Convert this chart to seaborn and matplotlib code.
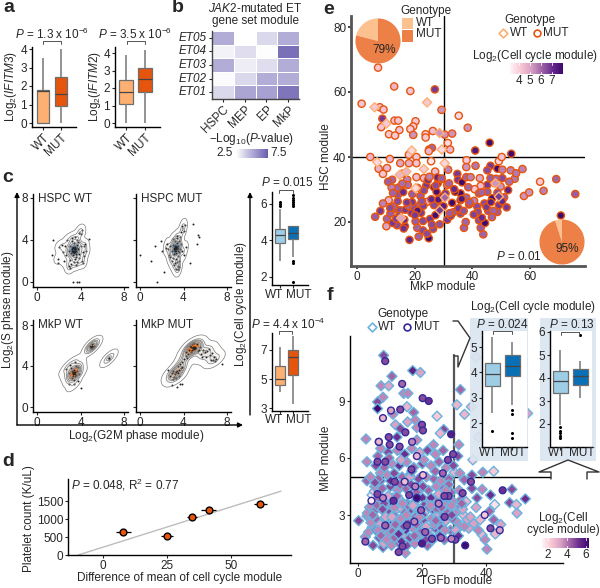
import seaborn as sns
import matplotlib.pyplot as plt
import matplotlib.patches as mpatches
from matplotlib.colors import LinearSegmentedColormap
import numpy as np
import pandas as pd

sns.set_theme(style='ticks')
plt.rcParams['font.family'] = ['Liberation Sans', 'DejaVu Sans']
plt.rcParams['mathtext.fontset'] = 'custom'
plt.rcParams['mathtext.rm'] = 'Liberation Sans'
plt.rcParams['mathtext.it'] = 'Liberation Sans:italic'
plt.rcParams['mathtext.default'] = 'regular'
plt.rcParams['font.size'] = 8.5

W, H = 600, 588

# panel a
a1_wt = [0, 0, 1.75, 1.77, 3.5]
a1_mut = [0, 0.9, 1.57, 2.5, 4.0]
a2_wt = [0, 1.1, 1.77, 2.48, 3.9]
a2_mut = [0, 1.8, 2.5, 3.16, 4.2]

# panel b
b_rows = ['ET05', 'ET04', 'ET03', 'ET02', 'ET01']
b_cols = ['HSPC', 'MEP', 'EP', 'MkP']
b_vals = [[5.0, 1.6, 3.2, 5.0],
          [2.2, 3.0, 1.8, 7.5],
          [5.0, 2.4, 3.0, 5.0],
          [1.9, 3.2, 5.0, 5.0],
          [3.2, 5.3, 5.5, 7.3]]

# panel c, density clouds
hw_x = [3.4, 3.2, 3.6, 3.5, 3.1, 3.8, 3.3, 3.7, 3.0, 3.9, 3.4, 2.9, 3.6, 4.0, 3.2, 3.5, 2.7, 4.2, 3.0, 3.8,
        2.6, 4.3, 3.4, 3.1, 3.7, 4.4, 2.4, 2.3, 4.5, 2.9, 3.5, 3.9, 3.2, 2.8, 4.1, 3.0, 3.6, 4.2, 2.5, 3.3,
        3.45, 3.35, 3.55, 3.25, 3.65, 3.4, 3.5, 3.3, 3.6, 3.2, 3.4, 3.5, 4.0, 4.1, 3.9, 1.9, 2.0, 3.7, 4.3]
hw_y = [3.0, 3.2, 2.9, 3.3, 2.8, 3.1, 2.6, 3.5, 3.4, 2.7, 3.7, 3.0, 2.4, 3.4, 3.9, 2.2, 2.6, 2.9, 2.1, 3.8,
        3.4, 2.5, 1.9, 1.7, 1.9, 3.6, 2.9, 3.5, 3.0, 1.5, 4.3, 2.3, 4.2, 4.0, 2.0, 1.3, 1.6, 1.8, 2.0, 3.0,
        3.1, 2.9, 3.0, 3.1, 3.2, 2.8, 3.1, 3.3, 2.7, 3.0, 3.2, 2.9, 4.6, 5.0, 4.7, 2.2, 3.3, 4.0, 3.4]
hw_far_x = [1.5, 1.4, 1.9, 3.3, 3.7, 3.9, 4.8]
hw_far_y = [4.0, 2.6, 1.8, 0.0, 0.0, 0.0, 4.1]
hm_x = [3.3, 3.1, 3.4, 3.2, 3.5, 3.0, 3.6, 3.3, 3.1, 3.4, 2.9, 3.7, 2.8, 3.8, 3.2, 3.5, 2.7, 3.0, 3.9, 3.3,
        2.6, 3.6, 2.5, 2.9, 4.0, 3.4, 3.2, 3.5, 3.1, 3.6, 2.8, 3.4, 3.7, 3.0, 3.3, 3.5, 3.9, 4.1, 4.0, 3.8,
        3.25, 3.35, 3.15, 3.45, 3.3, 3.2, 3.4, 3.3, 3.25, 3.35, 3.1, 3.5, 2.4, 4.2, 3.6, 3.4]
hm_y = [3.2, 3.1, 3.3, 3.0, 3.4, 3.5, 2.9, 2.8, 2.7, 3.7, 3.0, 3.1, 3.4, 3.6, 3.9, 2.5, 2.6, 2.3, 3.0, 2.2,
        3.1, 3.9, 3.6, 2.0, 2.6, 4.2, 1.8, 1.5, 1.6, 1.4, 2.4, 4.4, 4.3, 4.1, 1.2, 1.2, 5.3, 5.4, 4.9, 4.8,
        3.2, 3.3, 3.1, 3.2, 3.0, 3.4, 3.1, 3.3, 3.15, 3.25, 3.2, 3.0, 3.2, 3.3, 2.0, 1.9]
hm_far_x = [0.0, 1.6, 1.0, 1.4, 5.3, 5.4, 5.2, 4.6, 2.2, 1.9, 4.9, 2.0]
hm_far_y = [2.6, 0.0, 2.0, 3.4, 4.5, 4.3, 3.6, 1.8, 1.0, 3.9, 5.5, 3.0]
mw_x = [3.4, 3.3, 3.5, 3.2, 3.6, 3.4, 3.3, 3.5, 3.1, 3.7, 3.4, 2.9, 3.8, 3.2, 3.6, 2.7, 3.9, 3.0, 3.4, 3.5,
        3.3, 3.4, 3.45, 3.35, 5.0, 5.1, 5.2, 4.9, 5.15, 5.05, 4.95, 5.1, 6.6, 6.6, 6.65]
mw_y = [3.3, 3.2, 3.4, 3.5, 3.1, 3.6, 3.0, 3.0, 3.8, 3.5, 2.6, 3.3, 3.9, 2.8, 4.0, 3.7, 3.2, 4.1, 2.2, 4.4,
        3.4, 3.3, 3.25, 3.35, 5.9, 5.8, 6.0, 6.0, 5.9, 6.1, 5.8, 5.95, 4.75, 4.8, 4.7]
mw_far_x = [2.9, 3.8, 4.0]
mw_far_y = [2.2, 2.5, 1.9]
mm_x = [3.4, 3.2, 3.6, 3.0, 3.8, 3.3, 3.5, 2.9, 3.7, 3.1, 3.9, 4.0, 3.6, 4.2, 4.4, 4.5, 4.7, 4.9, 5.1, 4.8,
        5.0, 4.6, 5.2, 5.4, 5.5, 4.3, 4.9, 5.0, 5.1, 4.8, 4.7, 5.3, 5.6, 5.8, 6.0, 6.2, 6.4, 6.6, 6.8, 6.9,
        7.0, 6.5, 6.1, 5.7, 6.3, 4.2, 3.9, 4.85, 4.95, 5.05, 3.4, 3.3, 3.5, 6.7, 2.8, 3.0]
mm_y = [3.4, 3.2, 3.0, 3.5, 3.8, 2.8, 4.0, 3.3, 4.2, 2.9, 4.4, 4.7, 3.6, 5.0, 5.2, 5.6, 5.4, 5.9, 5.8, 6.1,
        6.2, 6.0, 6.1, 5.6, 5.9, 4.8, 5.8, 5.7, 5.9, 5.6, 5.9, 5.5, 5.2, 5.6, 5.4, 5.5, 5.1, 5.3, 4.9, 4.5,
        4.7, 4.6, 4.9, 4.9, 5.7, 5.4, 3.9, 5.8, 5.85, 5.75, 3.5, 3.4, 3.3, 4.6, 3.0, 2.7]
mm_far_x = [2.9, 3.4, 3.7, 3.9, 7.5, 2.6]
mm_far_y = [2.1, 2.0, 2.2, 2.2, 4.2, 3.6]

# panel c, boxes
cu_wt = [2.9, 3.4, 3.6, 3.7, 3.88, 4.0, 4.1, 4.2, 4.32, 4.4, 4.5, 4.55, 4.62, 5.7, 5.9, 6.0, 6.1]
cu_mut = [1.75, 2.75, 2.9, 3.1, 3.6, 3.9, 4.07, 4.1, 4.2, 4.3, 4.35, 4.4, 4.43, 4.5, 4.6, 4.65, 4.7, 4.75,
          4.8, 5.9, 6.0, 6.1, 6.2, 6.35, 6.5]
cl_wt = [4.1, 4.6, 5.0, 5.9, 7.2]
cl_mut = [3.3, 5.3, 6.5, 7.0, 8.0]

# panel d
d_diff = [8.0, 25.0, 34.7, 41.3, 61.5]
d_platelets = [650, 525, 1060, 1250, 1420]
d_err = [3.0, 2.5, 2.0, 3.0, 2.5]
d_fit_x = [-9.7, 69.5]
d_fit_y = [0, 1773]

# panel e
e_mut_x = [7.3, 12.9, 18.5, 27.0, 1.6, 7.9, 9.2, 8.8, 13.0, 14.3, 20.3, 19.5, 18.5, 8.4, 14.7, 11.1, 13.2, 19.5, 23.8, 23.8,
           26.3, 29.3, 35.3, 38.4, 33.0, 30.4, 31.5, 46.0, 41.0, 25.0, 26.0, 32.3, 4.6, 11.4, 7.5, 10.4, 9.0, 15.0, 18.0, 20.6,
           20.6, 18.0, 25.7, 27.1, 24.9, 20.6, 23.2, 17.4, 12.2, 15.0, 13.9, 17.6, 11.0, 9.0, 8.1, 6.3, 10.2, 10.4, 11.6, 13.3,
           15.0, 16.8, 18.9, 16.6, 13.9, 20.3, 20.9, 22.9, 25.3, 22.9, 24.9, 18.2, 21.4, 24.3, 26.4, 28.7, 31.3, 37.1, 37.7, 35.9,
           34.8, 21.8, 22.2, 24.3, 26.7, 27.6, 26.7, 27.2, 29.5, 31.3, 30.7, 34.8, 35.0, 36.4, 37.9, 39.4, 31.9, 35.9, 35.9, 37.9,
           40.6, 41.7, 41.9, 42.3, 42.9, 43.8, 44.4, 45.5, 48.7, 47.3, 46.9, 49.2, 51.9, 51.0, 52.4, 49.8, 48.7, 47.9, 45.2, 42.9,
           40.8, 42.3, 45.2, 46.3, 45.2, 48.7, 50.4, 53.3, 57.4, 54.7, 53.5, 41.1, 38.0, 37.9, 49.2, 50.2, 42.6, 46.3, 50.4, 57.9,
           59.7, 64.7, 63.5, 69.1, 75.7, 70.7, 14.2, 16.0, 12.7, 19.6, 24.0, 25.8, 28.0, 29.2, 33.0, 34.0, 36.3, 33.4, 32.5, 38.9,
           22.0, 19.1, 16.4, 14.6, 12.4, 17.8, 21.0, 26.0, 30.0, 32.1, 29.0, 44.2, 43.3, 46.8, 12.0, 15.9, 23.2, 24.6, 27.9, 38.6,
           10.8, 12.5, 14.1, 15.7, 17.3, 19.2, 21.0, 23.0, 25.1, 27.3, 29.4, 31.6, 33.7, 35.2, 37.0, 39.0, 40.5, 43.2, 44.9, 46.4,
           48.2, 50.3, 52.8, 55.2, 11.5, 13.6, 16.2, 20.1, 22.5, 28.2]
e_mut_y = [67.5, 61.7, 60.3, 60.8, 56.4, 55.3, 54.6, 51.8, 51.2, 51.2, 51.0, 49.4, 48.6, 49.2, 48.3, 47.0, 46.6, 46.8, 47.0, 46.0,
           48.0, 54.5, 52.7, 49.0, 47.2, 46.9, 44.3, 44.4, 42.0, 42.3, 42.8, 42.3, 40.0, 39.4, 36.4, 36.6, 34.8, 38.1, 40.7, 40.0,
           38.1, 38.1, 38.7, 35.5, 41.8, 33.8, 33.5, 33.0, 33.0, 30.9, 30.4, 31.4, 26.7, 25.7, 23.4, 21.6, 18.7, 21.0, 22.6, 24.1,
           23.6, 23.8, 22.8, 18.7, 19.0, 20.2, 18.2, 20.3, 20.9, 17.4, 15.0, 14.5, 15.5, 16.4, 17.9, 19.3, 20.7, 18.2, 20.0, 22.6,
           23.6, 25.2, 22.8, 26.2, 30.7, 29.3, 25.2, 22.1, 27.8, 31.4, 28.8, 34.8, 33.0, 32.2, 33.8, 33.8, 31.9, 28.8, 26.7, 27.5,
           26.5, 24.7, 23.1, 20.5, 18.2, 16.2, 19.7, 23.4, 23.1, 23.4, 27.3, 25.2, 24.5, 27.6, 29.8, 30.9, 29.0, 31.9, 31.4, 31.1,
           30.1, 28.8, 29.3, 37.3, 35.9, 36.4, 36.1, 35.9, 36.3, 33.3, 41.0, 37.3, 39.0, 36.9, 38.7, 40.0, 33.5, 33.5, 33.5, 28.0,
           29.1, 29.6, 32.4, 33.2, 28.6, 22.0, 28.4, 29.2, 24.8, 24.6, 31.2, 27.0, 31.9, 24.6, 25.9, 29.3, 27.1, 23.0, 21.9, 25.4,
           28.0, 26.1, 20.7, 21.9, 19.7, 25.0, 23.5, 19.2, 24.9, 22.7, 33.1, 25.7, 21.3, 21.5, 30.6, 34.9, 29.7, 32.9, 33.7, 30.7,
           32.4, 28.9, 26.4, 31.8, 26.0, 28.6, 30.5, 25.0, 33.9, 31.2, 33.4, 36.1, 30.1, 24.2, 23.4, 26.0, 22.3, 29.1, 24.6, 26.1,
           33.3, 26.4, 32.4, 35.0, 24.3, 21.0, 18.0, 22.1, 26.4, 26.9]
e_mut_c = [4.3, 4.5, 4.3, 6.0, 4.3, 4.3, 4.3, 6.0, 4.3, 4.3, 4.2, 4.2, 4.2, 4.3, 4.3, 4.2, 4.2, 5.0, 4.2, 4.2,
           4.4, 5.0, 4.0, 5.0, 5.0, 5.0, 4.0, 7.1, 6.5, 5.0, 5.5, 4.5, 4.5, 4.5, 4.6, 4.5, 4.3, 4.8, 4.3, 4.3,
           4.3, 4.6, 3.8, 4.4, 4.5, 4.4, 4.5, 5.2, 5.5, 5.5, 5.5, 5.4, 4.6, 5.2, 6.0, 5.6, 4.8, 5.5, 5.6, 5.6,
           5.8, 6.0, 6.0, 6.6, 5.8, 5.6, 5.5, 5.8, 6.0, 5.8, 6.8, 6.3, 5.5, 5.8, 5.8, 5.7, 6.0, 5.5, 5.5, 5.8,
           5.7, 5.5, 6.0, 4.6, 6.6, 6.7, 5.8, 6.7, 6.0, 5.2, 6.0, 6.0, 6.0, 7.0, 5.5, 5.2, 5.5, 7.0, 7.0, 5.5,
           5.2, 5.8, 5.8, 5.8, 5.6, 5.5, 6.8, 5.7, 5.6, 5.5, 7.0, 6.0, 6.0, 5.6, 6.3, 5.0, 5.8, 5.3, 6.0, 4.4,
           4.3, 5.6, 5.6, 6.0, 5.8, 6.8, 5.2, 5.2, 5.2, 5.3, 7.1, 5.3, 4.2, 5.0, 4.0, 4.3, 4.8, 5.6, 5.8, 5.0,
           5.0, 5.2, 4.2, 5.5, 5.6, 7.0, 5.7, 6.2, 5.5, 5.8, 6.0, 6.2, 6.5, 5.4, 6.8, 7.0, 6.5, 5.6, 6.0, 5.7,
           5.6, 6.0, 6.2, 5.8, 6.0, 5.5, 6.6, 5.8, 6.4, 5.6, 5.0, 5.8, 6.2, 5.5, 5.2, 5.5, 5.8, 6.1, 6.3, 5.5,
           5.6, 5.5, 5.8, 5.4, 6.0, 5.6, 5.4, 5.9, 5.2, 5.8, 5.6, 5.2, 6.2, 6.0, 5.7, 5.6, 5.9, 5.5, 6.0, 6.4,
           5.5, 6.2, 5.4, 5.3, 5.8, 5.9, 6.1, 6.0, 5.7, 6.5]
e_wt_x = [6.1, 24.3, 10.2, 28.6, 7.0, 30.4, 23.2, 14.8, 17.1, 20.3, 30.5, 28.7, 15.3, 49.2, 48.0, 29.4, 19.0]
e_wt_y = [55.3, 56.8, 50.3, 47.4, 38.4, 38.1, 36.3, 34.5, 35.5, 30.4, 27.5, 23.6, 21.2, 27.8, 31.9, 42.3, 42.0]
e_wt_c = [4.2, 4.2, 4.2, 5.0, 4.0, 4.0, 4.2, 4.5, 4.5, 4.0, 5.5, 6.0, 4.8, 6.0, 5.0, 4.0, 4.0]
e_pie_top = [21, 79]
e_pie_bottom = [5, 95]

# panel f
f_wt_x = [8.0, 10.6, 17.1, 19.5, 7.2, 9.6, 14.3, 15.6, 7.8, 32.0, 30.9, 35.4, 33.3, 36.9, 53.0, 24.7, 15.3, 17.4, 6.1, 6.1,
          10.9, 11.7, 15.5, 17.9, 13.2, 18.4, 26.8, 25.7, 2.5, 37.7, 18.4, 12.2, 23.6, 31.5, 2.8, 2.8, 7.0, 7.0, 42.4, 39.0,
          35.9, 35.6, 33.2, 30.1, 31.8, 38.8, 41.4, 48.1, 52.3, 47.4, 49.5, 49.7, 42.7, 37.2, 35.6, 0.2, 2.8, 4.4, 2.3, 7.8,
          14.8, 40.3, 42.4, 42.9, 38.8, 36.1, 38.2, 33.0, 34.1, 30.9, 31.5, 27.8, 4.4, 5.1,
          7.1, 9.4, 12.3, 14.6, 16.8, 19.3, 21.7, 24.2, 26.6, 31.2, 5.6, 8.2, 10.6, 12.9, 15.2, 17.4, 20.1, 22.8, 25.3, 27.6,
          29.8, 3.9, 6.4, 9.2, 11.3, 13.8, 16.1, 18.9, 21.4, 23.7, 25.9, 28.4, 5.2, 7.6, 10.1, 12.4, 15.0, 17.1, 19.6, 22.0,
          24.5, 26.8, 29.1, 31.6, 3.6, 5.9, 8.3, 10.7, 13.1, 15.4, 17.8, 20.2, 22.6, 24.9, 27.3, 29.7, 32.2, 2.9, 5.1, 7.4,
          9.8, 12.0, 14.3, 16.6, 18.8, 21.1, 23.3, 25.7, 28.0, 30.3, 32.7, 4.0, 6.2, 8.7, 11.0, 13.4, 15.7, 18.0, 20.4, 22.9,
          25.1, 27.5, 29.6, 31.9, 34.6, 3.3, 5.6, 7.9, 10.3, 12.6, 14.9, 17.3, 19.5, 21.9, 24.2, 26.4, 28.9, 6.6, 9.0, 11.4,
          13.7, 16.2, 18.5, 20.8, 23.2, 25.4, 27.0, 8.1, 10.5, 12.9, 15.3, 17.7, 21.7, 4.7, 6.9, 9.3, 11.7, 14.1, 16.5, 19.0,
          21.3, 23.9, 26.1, 6.0, 8.5, 10.9, 13.2, 15.6, 18.1, 20.6, 22.3, 24.7, 27.2, 29.4, 33.8, 36.9, 39.7, 41.1, 44.6,
          4.6, 6.3, 8.2, 9.4, 11.1, 12.7, 13.9, 15.4, 17.2, 18.3, 20.2, 21.6, 22.8, 24.7, 26.1, 27.2, 29.3, 30.6, 32.4, 33.2,
          5.3, 7.2, 8.6, 10.2, 11.3, 13.2, 14.4, 16.3, 17.6, 19.2, 20.3, 22.2, 23.4, 25.2, 26.7, 28.3, 29.2, 31.4, 35.1, 37.6,
          6.2, 7.7, 8.9, 10.6, 12.2, 13.6, 15.2, 16.6, 18.2, 19.4, 21.2, 22.7, 24.3, 25.6, 27.4, 9.7, 13.4, 16.8, 20.6, 24.1]
f_wt_y = [11.4, 10.3, 10.6, 10.5, 9.8, 9.8, 9.4, 9.4, 9.2, 9.6, 8.8, 8.7, 8.3, 11.3, 8.35, 8.2, 8.7, 8.4, 8.95, 8.6,
          8.3, 7.75, 7.9, 8.0, 7.55, 7.6, 7.5, 7.3, 7.0, 7.1, 6.95, 7.1, 6.7, 6.7, 5.8, 4.8, 5.2, 4.8, 5.3, 5.25,
          5.9, 5.1, 4.85, 5.25, 5.2, 4.35, 4.05, 4.35, 3.85, 3.65, 3.55, 3.1, 3.55, 3.9, 4.4, 2.7, 2.95, 2.35, 1.85, 1.3,
          1.0, 1.2, 2.75, 2.0, 1.95, 2.55, 2.75, 3.0, 2.75, 2.65, 3.35, 3.8, 4.05, 4.25,
          6.5, 6.3, 6.4, 6.2, 6.5, 6.3, 6.4, 6.2, 6.4, 6.1, 5.6, 5.5, 5.7, 5.6, 5.8, 5.5, 5.7, 5.6, 5.8, 5.5,
          5.6, 5.0, 4.9, 5.1, 5.2, 5.0, 5.1, 4.9, 5.0, 4.9, 4.8, 4.9, 4.5, 4.4, 4.5, 4.3, 4.4, 4.2, 4.4, 4.3,
          4.5, 4.4, 4.2, 4.3, 3.4, 3.8, 3.7, 3.9, 3.8, 3.6, 3.7, 3.9, 3.7, 3.8, 3.6, 3.7, 3.8, 3.1, 3.2, 3.3,
          3.1, 3.3, 3.2, 3.3, 3.1, 3.2, 3.3, 3.1, 3.2, 3.1, 3.3, 2.6, 2.7, 2.8, 2.6, 2.8, 2.7, 2.9, 2.7, 2.8,
          2.6, 2.7, 2.8, 2.4, 2.3, 2.1, 2.2, 2.3, 2.2, 2.4, 2.2, 2.3, 2.1, 2.2, 2.3, 2.1, 2.2, 1.8, 1.9, 1.8,
          1.9, 1.8, 1.9, 1.7, 1.8, 1.9, 1.7, 1.5, 1.4, 1.5, 1.4, 1.5, 1.4, 1.4, 2.5, 2.4, 2.5, 2.4, 2.6, 2.5,
          2.4, 2.5, 2.3, 3.5, 3.5, 3.6, 3.4, 3.5, 3.4, 3.5, 3.4, 3.3, 3.5, 3.4, 3.7, 3.4, 1.7, 3.2, 2.5,
          3.0, 2.2, 3.6, 4.0, 3.0, 2.0, 3.6, 2.6, 3.5, 4.2, 3.0, 2.0, 3.9, 2.9, 3.4, 2.2, 3.0, 2.2, 3.6, 2.4,
          4.7, 1.9, 2.9, 4.8, 3.4, 4.6, 2.4, 5.0, 1.9, 2.9, 4.5, 3.4, 1.7, 4.1, 2.9, 4.6, 3.5, 1.9, 2.9, 2.2,
          6.1, 3.3, 1.7, 2.9, 4.0, 1.6, 3.0, 4.6, 2.5, 3.3, 1.7, 3.5, 2.7, 1.9, 4.3, 6.0, 5.9, 5.3, 5.9, 5.3]
f_wt_c = [4.0, 3.5, 4.8, 2.5, 3.0, 2.5, 3.0, 3.0, 3.0, 3.5, 2.0, 2.0, 2.0, 1.5, 2.5, 1.5, 2.0, 3.5, 4.0, 5.5,
          3.0, 2.5, 2.5, 3.0, 4.0, 3.0, 4.0, 2.0, 3.0, 1.5, 3.0, 4.5, 3.0, 3.0, 3.0, 3.5, 3.0, 4.0, 1.5, 3.0,
          1.5, 4.0, 3.5, 2.0, 3.0, 3.0, 4.5, 4.0, 4.5, 4.0, 2.0, 2.5, 1.0, 4.0, 4.0, 4.0, 3.0, 3.0, 3.0, 4.0,
          3.0, 3.0, 3.5, 2.0, 2.0, 2.5, 2.0, 2.0, 2.5, 3.0, 3.5, 3.0, 1.0, 1.5,
          3.0, 4.0, 3.0, 4.5, 3.0, 2.5, 4.0, 3.0, 3.5, 4.0, 4.0, 3.5, 3.0, 4.5, 3.0, 3.5, 4.0, 3.0, 3.5, 3.0,
          4.0, 3.0, 3.5, 3.0, 4.0, 3.5, 3.0, 4.0, 3.0, 3.5, 3.0, 3.5, 3.0, 3.5, 4.0, 3.0, 3.5, 4.0, 3.0, 3.5,
          3.0, 3.5, 3.5, 3.0, 3.0, 3.5, 4.0, 3.0, 2.5, 4.0, 3.5, 4.5, 3.0, 3.5, 4.0, 3.0, 3.5, 3.0, 3.5, 3.0,
          4.0, 2.5, 3.5, 4.0, 3.0, 2.0, 4.0, 3.0, 3.5, 3.0, 2.5, 3.0, 3.5, 3.0, 4.5, 3.0, 1.5, 3.5, 4.0, 3.0,
          3.5, 2.5, 3.5, 3.0, 2.5, 3.0, 4.0, 3.0, 3.5, 2.5, 4.5, 3.0, 3.5, 2.5, 4.0, 3.0, 3.5, 4.0, 3.0, 3.5,
          2.5, 4.0, 3.0, 3.5, 3.0, 4.5, 3.5, 2.5, 3.0, 3.5, 4.0, 3.0, 3.5, 4.0, 2.5, 3.0, 3.5, 4.0, 3.0, 3.5,
          2.5, 3.0, 4.0, 3.5, 3.0, 4.5, 2.5, 3.5, 3.0, 4.0, 3.0, 3.5, 3.0, 2.5, 2.0, 2.5, 3.0, 3.5, 2.5,
          3.5, 3.0, 4.0, 2.5, 3.5, 4.5, 3.0, 4.0, 2.5, 3.5, 4.0, 3.0, 4.5, 2.5, 3.5, 3.0, 4.0, 2.5, 3.5, 3.0,
          4.0, 3.5, 2.5, 4.5, 3.0, 3.5, 4.0, 2.5, 3.5, 3.0, 4.0, 3.5, 3.0, 2.5, 4.0, 3.5, 3.0, 4.5, 2.5, 3.0,
          3.5, 4.0, 3.0, 2.5, 3.5, 4.5, 3.0, 4.0, 3.5, 2.5, 4.0, 3.0, 3.5, 4.5, 3.0, 3.5, 2.5, 4.0, 3.0, 3.5]
f_mut_x = [8.5, 13.8, 20.2, 22.1, 10.3, 13.2, 7.8, 20.0, 20.3, 14.8, 29.1, 9.6, 6.5, 16.9, 45.2, 39.6, 41.4, 44.3, 33.5, 30.4,
           29.2, 25.9, 23.1, 20.0, 12.7, 13.9, 2.3, 4.2, 6.1, 7.8, 11.1, 16.0, 18.4, 17.9, 11.5, 14.6, 20.3, 26.5, 35.3, 32.7,
           28.3, 27.0, 25.2, 19.7, 27.1, 17.6, 15.3, 8.5, 21.0, 13.0, 9.9, 6.1, 8.5, 18.4, 28.1, 29.7, 16.7, 6.5]
f_mut_y = [11.1, 9.9, 9.15, 9.0, 8.5, 8.55, 8.1, 7.75, 7.45, 7.35, 7.25, 7.1, 6.85, 6.85, 4.3, 3.0, 2.3, 2.2, 1.4, 1.7,
           1.75, 1.8, 1.75, 1.5, 1.05, 1.35, 1.6, 3.75, 4.1, 3.9, 3.75, 4.05, 3.9, 4.5, 4.75, 4.75, 5.1, 5.2, 4.75, 4.15,
           4.0, 4.0, 3.6, 3.25, 2.9, 2.65, 2.45, 2.45, 2.1, 6.6, 6.7, 5.8, 5.8, 6.1, 5.9, 6.2, 5.4, 6.85]
f_mut_c = [4.0, 3.5, 4.0, 4.5, 2.5, 4.0, 2.0, 4.0, 4.0, 4.0, 5.0, 4.0, 3.5, 3.0, 4.5, 1.5, 4.0, 2.5, 6.5, 4.0,
           3.0, 3.5, 4.0, 5.0, 4.0, 4.0, 3.5, 0.8, 4.0, 3.0, 4.5, 4.0, 6.0, 3.0, 4.0, 1.8, 1.8, 3.5, 4.0, 4.0,
           4.0, 4.0, 3.0, 3.5, 4.0, 3.0, 4.0, 3.5, 3.5, 4.0, 4.0, 4.0, 4.0, 2.0, 4.0, 4.0, 4.0, 2.0]

# panel f, boxes
f1_wt = [1.7, 2.38, 3.47, 3.7, 3.93, 4.1, 4.35, 4.9, 5.4]
f1_mut = [1.4, 1.62, 2.35, 2.5, 2.73, 3.3, 3.85, 3.9, 4.0, 4.1, 4.15, 4.2, 4.25, 4.3, 4.35, 4.4, 4.5, 4.6,
          4.67, 4.8, 4.9, 4.95, 5.0, 5.1, 5.2]
f2_wt = [1.4, 1.5, 1.6, 1.7, 1.85, 1.95, 3.35, 3.4, 3.5, 3.6, 3.7, 3.8, 3.85, 3.9, 4.0, 4.1, 4.2, 4.25,
         4.3, 4.4, 4.5, 4.6, 4.8, 5.0, 5.2]
f2_mut = [3.15, 3.4, 3.7, 3.9, 4.1, 4.2, 4.4, 4.75, 5.85]

ORANGE = {'WT': '#FDB071', 'MUT': '#E6550D'}
BLUE = {'WT': '#9ECDE6', 'MUT': '#0A70B5'}
cycle_cmap = LinearSegmentedColormap.from_list('cyc', ['#FFF3F6', '#F8C6D3', '#D9A0C4', '#A064A6', '#6A2C8F', '#3F0A6E'])
b_cmap = LinearSegmentedColormap.from_list('bp', ['#FFFFFF', '#C9C7E2', '#9A94CB', '#6A5FAE'])
grey_blue = LinearSegmentedColormap.from_list('gb', ['#FFFFFF', '#F2F2F2', '#CFCFCF', '#9BA8B4', '#4F86B4', '#1F6FB5'])
grey_orange = LinearSegmentedColormap.from_list('go', ['#FFFFFF', '#F4F2F0', '#D6CEC7', '#C9A98F', '#E98A48', '#F06A1A'])

fig = plt.figure(figsize=(W / 100, H / 100), dpi=100)


def px_ax(x0, y0, x1, y1, **kw):
    # axes from pixel box, y counted from the top
    return fig.add_axes([x0 / W, 1 - y1 / H, (x1 - x0) / W, (y1 - y0) / H], **kw)


def lim(p0, p1, va, pa, vb, pb):
    # data values at pixels p0 and p1, given two known ticks
    k = (vb - va) / (pb - pa)
    return va + (p0 - pa) * k, va + (p1 - pa) * k


def style(ax, lw=1.0, color='black'):
    sns.despine(ax=ax)
    ax.spines['left'].set_linewidth(lw)
    ax.spines['bottom'].set_linewidth(lw)
    ax.spines['left'].set_color(color)
    ax.spines['bottom'].set_color(color)
    ax.tick_params(length=2, width=0.8, pad=1.5, labelsize=8.5)
    ax.set_xlabel('')
    ax.set_ylabel('')


def box_panel(box, wt, mut, pal, centers, ya, yb, yticks, rot=0, width=0.72, whis=1.5, fs=8.5):
    ax = px_ax(*box)
    df = pd.DataFrame({'g': ['WT'] * len(wt) + ['MUT'] * len(mut), 'v': wt + mut})
    sns.boxplot(data=df, x='g', y='v', hue='g', palette=pal, legend=False, ax=ax, width=width,
                linewidth=0.9, linecolor='#6E6E6E', whis=whis, saturation=1, showcaps=False,
                whiskerprops=dict(color='#808080', linewidth=1.2), medianprops=dict(color='#444444', linewidth=0.9),
                flierprops=dict(marker='o', markersize=1.2, markerfacecolor='black', markeredgecolor='black'))
    style(ax)
    ax.set_xlim(*lim(box[0], box[2], 0, centers[0], 1, centers[1]))
    ax.set_ylim(*lim(box[3], box[1], ya[0], ya[1], yb[0], yb[1]))
    ax.set_yticks(yticks)
    ax.set_xticks([0, 1])
    if rot:
        ax.set_xticklabels(['WT', 'MUT'], rotation=rot, ha='right', rotation_mode='anchor', fontsize=fs)
    else:
        # labels are wider than the box spacing, they go on the overlay
        ax.set_xticklabels([])
    ax.tick_params(axis='y', labelsize=fs)
    return ax


def cloud_panel(box, x, y, far_x, far_y, cmap, label, xr, yr, ytick_labels, bw=0.8):
    ax = px_ax(*box)
    sns.kdeplot(x=x, y=y, fill=True, levels=12, thresh=0.08, cmap=cmap, bw_adjust=bw, ax=ax)
    sns.kdeplot(x=x, y=y, levels=7, thresh=0.02, color='#7A7A7A', linewidths=0.5, bw_adjust=bw, ax=ax)
    sns.scatterplot(x=x + far_x, y=y + far_y, s=2, color='#222222', linewidth=0, ax=ax)
    style(ax)
    ax.set_xlim(*lim(box[0], box[2], 0, xr[0], 8, xr[1]))
    ax.set_ylim(*lim(box[3], box[1], 0, yr[0], 8, yr[1]))
    ax.set_xticks([0, 4, 8])
    ax.set_yticks([0, 4, 8])
    if not ytick_labels:
        ax.set_yticklabels([])
    ax.text(0.05, 0.95, label, transform=ax.transAxes, va='center', fontsize=8.5)
    return ax


def gradient(box, cmap, tick_px=()):
    ax = px_ax(*box)
    ax.imshow(np.linspace(0, 1, 64)[None, :], cmap=cmap, aspect='auto', extent=(box[0], box[2], 0, 1))
    for p in tick_px:
        ax.axvline(p, color='white', lw=0.6, ymax=0.22)
        ax.axvline(p, color='white', lw=0.6, ymin=0.78)
    ax.axis('off')


# panel a
box_panel((32, 47, 76, 127), a1_wt, a1_mut, ORANGE, (43, 61), (0, 123), (4, 49), [0, 1, 2, 3, 4], rot=45, whis=10)
box_panel((115, 47, 160, 127), a2_wt, a2_mut, ORANGE, (126, 145), (0, 123), (4, 53), [0, 1, 2, 3, 4], rot=45, whis=10)

# panel b
ax_b = px_ax(212, 31, 299, 99)
sns.heatmap(pd.DataFrame(b_vals, index=b_rows, columns=b_cols), cmap=b_cmap, vmin=1.7, vmax=8.2, cbar=False,
            linewidths=0.6, linecolor='white', xticklabels=b_cols, yticklabels=b_rows, ax=ax_b)
ax_b.set_yticklabels(b_rows, rotation=0, style='italic', fontsize=8.5)
ax_b.set_xticklabels(b_cols, rotation=45, ha='right', rotation_mode='anchor', fontsize=8.5)
ax_b.tick_params(length=2, width=0.8, pad=1.5)
for s in ['left', 'bottom']:
    ax_b.spines[s].set_visible(True)
    ax_b.spines[s].set_color('#444444')
    ax_b.spines[s].set_linewidth(1)
gradient((236, 149, 268, 158), b_cmap)

# panel c clouds
cloud_panel((33, 194, 128, 287), hw_x, hw_y, hw_far_x, hw_far_y, grey_blue, 'HSPC WT', (37, 124), (282, 198), True)
cloud_panel((136, 194, 231, 287), hm_x, hm_y, hm_far_x, hm_far_y, grey_blue, 'HSPC MUT', (140, 227), (282, 198), False)
cloud_panel((33, 320, 128, 412), mw_x, mw_y, mw_far_x, mw_far_y, grey_orange, 'MkP WT', (37, 124), (407, 325), True, bw=0.6)
cloud_panel((136, 320, 231, 412), mm_x, mm_y, mm_far_x, mm_far_y, grey_orange, 'MkP MUT', (140, 227), (407, 325), False, bw=0.75)

# panel c boxes
box_panel((272, 192, 308, 285), cu_wt, cu_mut, BLUE, (280, 293), (2, 277), (6, 204), [2, 4, 6], width=0.75)
box_panel((272, 333, 308, 411), cl_wt, cl_mut, ORANGE, (280, 293), (3, 408), (7, 350), [3, 5, 7], width=0.75, whis=10)

# panel d
ax_d = px_ax(68, 479, 291, 555)
sns.lineplot(x=d_fit_x, y=d_fit_y, color='#BDBDBD', linewidth=1, ax=ax_d)
ax_d.errorbar(d_diff, d_platelets, xerr=d_err, fmt='none', ecolor='black', elinewidth=0.9, zorder=3)
sns.scatterplot(x=d_diff, y=d_platelets, s=24, color='#E6550D', edgecolor='black', linewidth=1, zorder=4, ax=ax_d)
style(ax_d)
ax_d.set_xlim(*lim(68, 291, 0, 103, 50, 231))
ax_d.set_ylim(*lim(555, 479, 0, 555, 1500, 501))
ax_d.set_xticks([0, 25, 50])
ax_d.set_yticks([0, 500, 1000, 1500])

# panel e
ax_e = px_ax(351, 16, 585, 266)
ax_e.axvline(30, color='black', lw=1, zorder=1)
ax_e.axhline(40, color='black', lw=1, zorder=1)
sns.scatterplot(x=e_mut_x, y=e_mut_y, hue=e_mut_c, hue_norm=(3.6, 6.8), palette=cycle_cmap, marker='o', s=27,
                edgecolor='#E6550D', linewidth=1.0, legend=False, zorder=2, ax=ax_e)
sns.scatterplot(x=e_wt_x, y=e_wt_y, hue=e_wt_c, hue_norm=(3.6, 6.8), palette=cycle_cmap, marker='D', s=22,
                edgecolor='#FDB071', linewidth=1.0, legend=False, zorder=3, ax=ax_e)
style(ax_e, lw=2, color='#555555')
ax_e.set_xlim(*lim(351, 585, 0, 357, 60, 530))
ax_e.set_ylim(*lim(266, 16, 20, 222, 80, 27))
ax_e.set_xticks([0, 20, 40, 60])
ax_e.set_yticks([20, 40, 60, 80])
ax_e.tick_params(width=1.2)

for (cx, cy), vals in [((378, 41), e_pie_top), ((562, 242), e_pie_bottom)]:
    ax_p = px_ax(cx - 23, cy - 23, cx + 23, cy + 23)
    ax_p.pie(vals, colors=['#FDC08F', '#EC8047'], startangle=90, radius=1.0,
             wedgeprops=dict(edgecolor='none'))
    ax_p.set_xlim(-1.02, 1.02)
    ax_p.set_ylim(-1.02, 1.02)

gradient((510, 63, 563, 74), cycle_cmap, (519, 530, 541, 552))

# panel f
ax_f = px_ax(350, 336, 563, 563)
ax_f.plot([30, 30], [0, 11.4], color='#555555', lw=1.6, zorder=1)
ax_f.plot([-3, 60], [5, 5], color='black', lw=1, zorder=1)
sns.scatterplot(x=f_wt_x, y=f_wt_y, hue=f_wt_c, hue_norm=(0.6, 5.5), palette=cycle_cmap, marker='D', s=26,
                edgecolor='#6BB3DE', linewidth=1.0, legend=False, zorder=2, ax=ax_f)
sns.scatterplot(x=f_mut_x, y=f_mut_y, hue=f_mut_c, hue_norm=(0.6, 5.5), palette=cycle_cmap, marker='o', s=24,
                edgecolor='#33289A', linewidth=1.0, legend=False, zorder=3, ax=ax_f)
style(ax_f)
ax_f.set_xlim(*lim(350, 563, 0, 358, 40, 486))
ax_f.set_ylim(*lim(563, 336, 3, 515, 9, 401))
ax_f.set_xticks([0, 20, 40])
ax_f.set_yticks([3, 6, 9])

gradient((542, 538, 589, 548), cycle_cmap, (548, 567, 586))

# panel f insets
for box in [(470, 318, 528, 461), (540, 318, 596, 461)]:
    ax_bg = px_ax(*box)
    ax_bg.set_facecolor((0.855, 0.898, 0.945, 0.9))
    ax_bg.set_xticks([])
    ax_bg.set_yticks([])
    sns.despine(ax=ax_bg, left=True, bottom=True)
ax1 = box_panel((482, 331, 527, 447), f1_wt, f1_mut, BLUE, (492, 512), (2, 423), (5, 347), [2, 3, 4, 5], width=0.75)
ax2 = box_panel((550, 331, 592, 447), f2_wt, f2_mut, BLUE, (560, 580), (2, 424), (6, 332), [2, 3, 4, 5, 6], width=0.75)

# overlay for text, brackets and arrows
ov = fig.add_axes([0, 0, 1, 1], zorder=20)
ov.set_xlim(0, W)
ov.set_ylim(H, 0)
ov.axis('off')


def t(x, y, s, ha='center', size=8.5, **kw):
    ov.text(x, y, s, ha=ha, va='center', fontsize=size, **kw)


def bracket(x0, x1, y):
    ov.plot([x0, x0, x1, x1], [y + 3, y, y, y + 3], color='#555555', lw=0.7)


for x, y, s in [(3, 8, 'a'), (172, 8, 'b'), (2, 177, 'c'), (2, 461, 'd'), (323, 9, 'e'), (327, 296, 'f')]:
    t(x, y, s, ha='left', size=14, fontweight='bold')

t(52, 34, r'$\mathit{P}$ = 1.3 x 10$^{-6}$')
t(135, 34, r'$\mathit{P}$ = 3.5 x 10$^{-6}$')
bracket(43, 61, 41)
bracket(127, 145, 41)
t(11, 87, r'Log$_2$($\mathit{IFITM3}$)', rotation=90)
t(95, 87, r'Log$_2$($\mathit{IFITM2}$)', rotation=90)

t(255, 8, r'$\mathit{JAK2}$-mutated ET')
t(255, 21, 'gene set module')
t(252, 139, r'$-$Log$_{10}$($\mathit{P}$-value)')
t(233, 153, '2.5', ha='right')
t(270, 153, '7.5', ha='left')

t(8, 310, r'Log$_2$(S phase module)', rotation=90)
t(136, 436, r'Log$_2$(G2M phase module)')
t(241, 304, r'Log$_2$(Cell cycle module)', rotation=90)
t(287, 183, r'$\mathit{P}$ = 0.015')
t(288, 324, r'$\mathit{P}$ = 4.4 x 10$^{-4}$')
bracket(279, 293, 190)
bracket(279, 292, 331)
for y in [295, 420]:
    t(283, y, 'WT', ha='right')
    t(286, y, 'MUT', ha='left')
arrow = dict(arrowstyle='-|>', color='black', lw=1, mutation_scale=7, shrinkA=0, shrinkB=0)
ov.annotate('', xy=(17, 192), xytext=(17, 425), arrowprops=arrow)
ov.annotate('', xy=(243, 425), xytext=(17, 425), arrowprops=arrow)
ov.annotate('', xy=(250, 192), xytext=(250, 415), arrowprops=arrow)

t(29, 519, 'Platelet count (K/uL)', rotation=90)
t(180, 578, 'Difference of mean of cell cycle module')
t(71, 485, r'$\mathit{P}$ = 0.048, R$^2$ = 0.77', ha='left')

t(426, 11, 'Genotype')
ov.add_patch(mpatches.Rectangle((402, 18), 11, 11, color='#FDC08F', lw=0))
ov.add_patch(mpatches.Rectangle((402, 30), 11, 12, color='#EC8047', lw=0))
t(416, 23, 'WT', ha='left')
t(416, 34, 'MUT', ha='left')
t(384, 50, '79%')
t(567, 249, '95%')
t(496, 257, r'$\mathit{P}$ = 0.01', ha='left')
t(530, 20, 'Genotype')
ov.scatter([503], [33], marker='D', s=20, facecolor='white', edgecolor='#FDB071', linewidth=1.2)
t(510, 33, 'WT', ha='left')
ov.scatter([537], [33], marker='o', s=24, facecolor='white', edgecolor='#E6550D', linewidth=1.2)
t(543, 33, 'MUT', ha='left')
t(535, 56, r'Log$_2$(Cell cycle module)')
for x, s in [(519, '4'), (530, '5'), (541, '6'), (552, '7')]:
    t(x, 81, s)
t(326, 157, 'HSC module', rotation=90)
t(443, 287, 'MkP module')

t(403, 314, 'Genotype')
ov.scatter([372], [327], marker='D', s=20, facecolor='white', edgecolor='#6BB3DE', linewidth=1.2)
t(378, 327, 'WT', ha='left')
ov.scatter([407], [327], marker='o', s=24, facecolor='white', edgecolor='#33289A', linewidth=1.2)
t(414, 327, 'MUT', ha='left')
t(533, 307, r'Log$_2$(Cell cycle module)')
t(502, 324, r'$\mathit{P}$ = 0.024')
t(572, 324, r'$\mathit{P}$ = 0.13')
bracket(493, 512, 331)
bracket(561, 579, 332)
t(497, 453, 'WT', ha='right')
t(500, 453, 'MUT', ha='left')
t(566, 453, 'WT', ha='right')
t(569, 453, 'MUT', ha='left')
ov.plot([453, 458, 470, 458, 458, 454], [321, 321, 338, 367, 356, 356], color='#333333', lw=1)
ov.plot([551, 551, 539, 568, 599, 587, 587], [479, 472, 472, 460, 472, 472, 479], color='#333333', lw=1)
t(326, 458, 'MkP module', rotation=90)
t(456, 581, 'TGFb module')
t(563, 518, r'Log$_2$(Cell')
t(563, 530, 'cycle module)')
for x, s in [(548, '2'), (567, '4'), (586, '6')]:
    t(x, 555, s)

fig.savefig('out.png', dpi=100)
